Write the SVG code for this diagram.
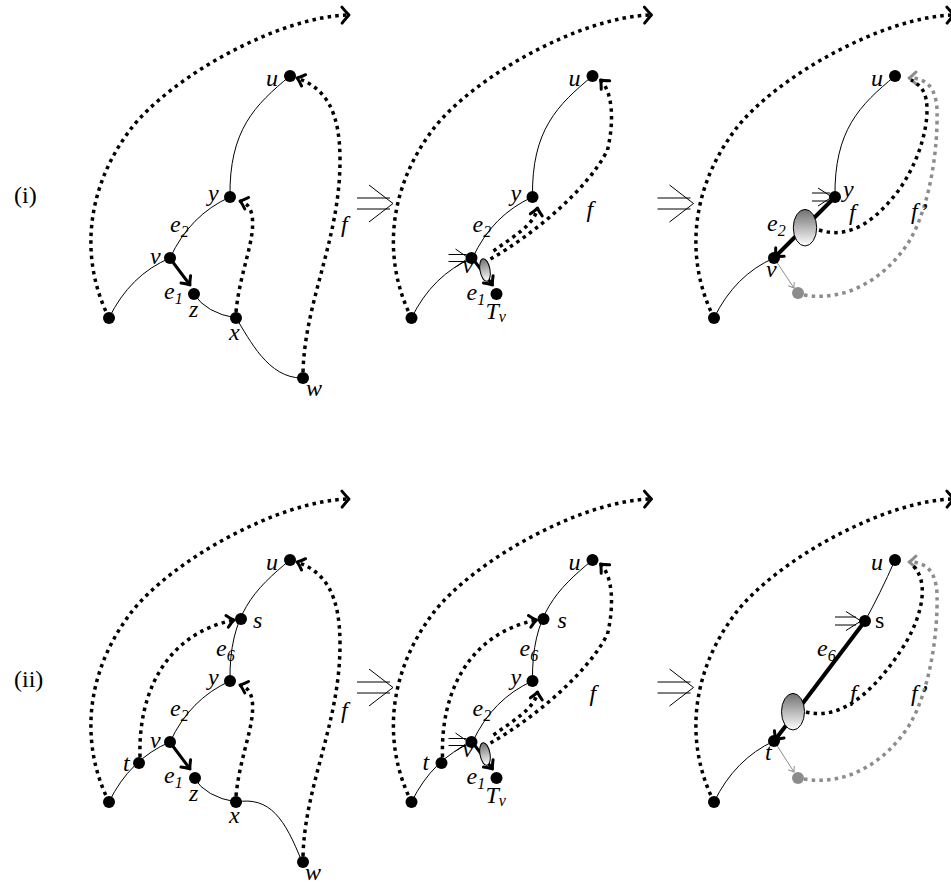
<svg xmlns="http://www.w3.org/2000/svg" width="951" height="886" viewBox="0 0 951 886">
<style>
.sl{fill:none;stroke:#000;stroke-width:1}
.th{fill:none;stroke:#000;stroke-width:3}
.tk{fill:none;stroke:#000;stroke-width:4}
.dt{fill:none;stroke:#000;stroke-width:3.5;stroke-dasharray:3.5 4.2}
.gdt{fill:none;stroke:#8c8c8c;stroke-width:3.5;stroke-dasharray:3.5 4.2}
.ga{fill:none;stroke:#8c8c8c;stroke-width:1}
.dbl{fill:none;stroke:#000;stroke-width:1}
.nd{fill:#000}
.gnd{fill:#8c8c8c}
.el{stroke:#000;stroke-width:1;fill:url(#eg)}
text{font-family:"Liberation Serif","Times New Roman",serif;font-size:24px;font-style:italic;fill:#000}
.sub{font-size:16px}
.rm{font-style:normal}
</style>
<defs>
<linearGradient id="eg" x1="0" y1="0" x2="0" y2="1"><stop offset="0" stop-color="#707070"/><stop offset="1" stop-color="#ffffff"/></linearGradient>
<marker id="ah" markerUnits="userSpaceOnUse" markerWidth="20" markerHeight="20" viewBox="-10 -10 20 20" refX="0" refY="0" orient="auto" overflow="visible"><path d="M-7,-6 Q-2,-1 0,0 Q-2,1 -7,6" fill="none" stroke="#000" stroke-width="3" stroke-linecap="round" stroke-linejoin="round"/></marker>
<marker id="ahb" markerUnits="userSpaceOnUse" markerWidth="20" markerHeight="20" viewBox="-10 -10 20 20" refX="0" refY="0" orient="auto" overflow="visible"><path d="M-7,-8 Q-2,-2 0,0 Q-2,2 -7,8" fill="none" stroke="#000" stroke-width="3" stroke-linecap="round" stroke-linejoin="round"/></marker>
<marker id="ahg" markerUnits="userSpaceOnUse" markerWidth="20" markerHeight="20" viewBox="-10 -10 20 20" refX="0" refY="0" orient="auto" overflow="visible"><path d="M-7,-6 Q-2,-1 0,0 Q-2,1 -7,6" fill="none" stroke="#8c8c8c" stroke-width="3" stroke-linecap="round" stroke-linejoin="round"/></marker>
<marker id="sg" markerUnits="userSpaceOnUse" markerWidth="12" markerHeight="12" viewBox="-6 -6 12 12" refX="0" refY="0" orient="auto" overflow="visible"><path d="M-5,-3.5 L0,0 L-5,3.5" fill="none" stroke="#8c8c8c" stroke-width="1"/></marker>
</defs>
<rect width="951" height="886" fill="#fff"/>

<text class="rm" x="14" y="203">(i)</text>
<text class="rm" x="14" y="687">(ii)</text>

<!-- Panel A: top-left -->
<g id="panelA">
 <g id="A-connectors">
  <path class="dt" d="M109,318 C80,260 85,190 130,130 C170,77 280,16 349,15" marker-end="url(#ahb)"/>
  <path class="dt" d="M303,372 C305,300 340,240 340,160 C340,110 325,88 297,78" marker-end="url(#ah)"/>
  <path class="dt" d="M236,312 C240,270 256,240 252,215 C250,206 246,203 240,201" marker-end="url(#ah)"/>
  <path class="sl" d="M290,76 C255,105 229,130 230,197"/>
  <path class="sl" d="M230,197 Q190,215 170,258"/>
  <path class="sl" d="M170,258 Q130,275 109,318"/>
  <path class="th" d="M172,261 L190,285" marker-end="url(#ah)"/>
  <path class="sl" d="M194,294 Q206,313 236,318"/>
  <path class="sl" d="M236,318 C250,340 268,378 302,378"/>
  <path class="dbl" d="M357,198 H390 M357,209 H390 M369,185 L393,203.5 L369,222"/>
 </g>
 <g id="A-u"><circle class="nd" cx="290" cy="76" r="6"/><text x="266" y="86">u</text></g>
 <g id="A-y"><circle class="nd" cx="230" cy="197" r="6"/><text x="208" y="201">y</text></g>
 <g id="A-v"><circle class="nd" cx="170" cy="258" r="6"/><text x="150" y="264">v</text></g>
 <g id="A-z"><circle class="nd" cx="194" cy="294" r="6"/><text x="189" y="317">z</text></g>
 <g id="A-x"><circle class="nd" cx="236" cy="318" r="6"/><text x="229" y="340">x</text></g>
 <g id="A-w"><circle class="nd" cx="303" cy="378" r="6"/><text x="306" y="396">w</text></g>
 <g id="A-l"><circle class="nd" cx="109" cy="318" r="6"/></g>
 <g id="A-labels">
  <text x="170" y="232">e<tspan class="sub" dy="5">2</tspan></text>
  <text x="164" y="299">e<tspan class="sub" dy="5">1</tspan></text>
  <text x="341" y="232">f</text>
 </g>
</g>

<!-- Panel B: top-middle -->
<g id="panelB" transform="translate(302.5,0)">
 <g id="B-connectors">
  <path class="dt" d="M109,318 C80,260 85,190 130,130 C170,77 280,16 349,15" marker-end="url(#ahb)"/>
  <path class="sl" d="M290,76 C255,105 229,130 230,197"/>
  <path class="sl" d="M230,197 Q190,215 170,258"/>
  <path class="sl" d="M170,258 Q130,275 109,318"/>
  <path class="th" d="M172,261 L190,285" marker-end="url(#ah)"/>
  <path class="dt" d="M188,259 C230,235 285,190 305,150 C312,120 310,92 298,80" marker-end="url(#ah)"/>
  <path class="dt" d="M191,251 C210,237 232,225 235,208" marker-end="url(#ah)"/>
  <path class="dbl" d="M146,254.5 H164 M146,261.5 H164 M153,249 L166,258 L153,267"/>
  <path class="dbl" d="M355,198 H388 M355,209 H388 M367,185 L391,203.5 L367,222"/>
 </g>
 <g id="B-u"><circle class="nd" cx="290" cy="76" r="6"/><text x="266" y="86">u</text></g>
 <g id="B-y"><circle class="nd" cx="230" cy="197" r="6"/><text x="208" y="201">y</text></g>
 <g id="B-v"><circle class="nd" cx="169" cy="258" r="6"/><text x="160" y="273">v</text></g>
 <g id="B-e"><ellipse class="el" cx="182.5" cy="270" rx="5" ry="11.5" transform="rotate(-10 182.5 270)"/></g>
 <g id="B-tv"><circle class="nd" cx="194" cy="294" r="6"/><text x="183" y="319">T<tspan class="sub" dy="3">v</tspan></text></g>
 <g id="B-l"><circle class="nd" cx="109" cy="318" r="6"/></g>
 <g id="B-labels">
  <text x="170" y="232">e<tspan class="sub" dy="5">2</tspan></text>
  <text x="164" y="300">e<tspan class="sub" dy="5">1</tspan></text>
  <text x="284" y="217">f</text>
 </g>
</g>

<!-- Panel C: top-right -->
<g id="panelC" transform="translate(605,0)">
 <g id="C-connectors">
  <path class="dt" d="M109,318 C80,260 85,190 130,130 C170,77 280,16 349,15" marker-end="url(#ahb)"/>
  <path class="sl" d="M290,76 C255,105 229,130 230,197"/>
  <path class="sl" d="M169,258 Q130,275 109,318"/>
  <path class="tk" d="M230,197 L170,257" marker-end="url(#ah)"/>
  <path class="ga" d="M171,261 L189,288" marker-end="url(#sg)"/>
  <path class="gdt" d="M199,295 C240,302 280,280 305,240 C325,205 333,150 332,110 C331,88 322,78 304,78" marker-end="url(#ahg)"/>
  <path class="dt" d="M214,230 C245,240 270,220 290,195 C310,170 322,135 322,110 C322,95 318,86 306,80"/>
  <path class="dbl" d="M207,193 H225 M207,201 H225 M213,188 L227,197 L213,206"/>
 </g>
 <g id="C-u"><circle class="nd" cx="290" cy="76" r="6"/><text x="266" y="86">u</text></g>
 <g id="C-y"><circle class="nd" cx="230" cy="197" r="6"/><text x="238" y="197">y</text></g>
 <g id="C-e"><ellipse class="el" cx="200" cy="227.7" rx="11.7" ry="18.3"/></g>
 <g id="C-v"><circle class="nd" cx="169" cy="258" r="6"/><text x="161" y="277">v</text></g>
 <g id="C-g"><circle class="gnd" cx="193" cy="293" r="6"/></g>
 <g id="C-l"><circle class="nd" cx="109" cy="318" r="6"/></g>
 <g id="C-labels">
  <text x="162" y="231">e<tspan class="sub" dy="5">2</tspan></text>
  <text x="244" y="220">f</text>
  <text x="306" y="219">f’</text>
 </g>
</g>

<!-- Panel D: bottom-left -->
<g id="panelD" transform="translate(0,484)">
 <g id="D-connectors">
  <path class="dt" d="M109,318 C80,260 85,190 130,130 C170,77 280,16 349,15" marker-end="url(#ahb)"/>
  <path class="dt" d="M303,372 C305,300 340,240 340,160 C340,110 325,88 297,78" marker-end="url(#ah)"/>
  <path class="dt" d="M236,312 C240,270 256,240 252,215 C250,206 246,203 240,201" marker-end="url(#ah)"/>
  <path class="dt" d="M140,273 C138,210 165,150 234,136" marker-end="url(#ah)"/>
  <path class="sl" d="M290,76 C255,105 229,130 230,197"/>
  <path class="sl" d="M230,197 Q190,215 170,258"/>
  <path class="sl" d="M170,258 Q130,275 109,318"/>
  <path class="th" d="M172,261 L190,285" marker-end="url(#ah)"/>
  <path class="sl" d="M194,294 Q206,313 236,318"/>
  <path class="sl" d="M236,318 C270,312 285,335 302,378"/>
  <path class="dbl" d="M357,198 H390 M357,209 H390 M369,185 L393,203.5 L369,222"/>
 </g>
 <g id="D-u"><circle class="nd" cx="290" cy="76" r="6"/><text x="266" y="86">u</text></g>
 <g id="D-s"><circle class="nd" cx="241" cy="135" r="6"/><text x="253" y="144">s</text></g>
 <g id="D-y"><circle class="nd" cx="230" cy="197" r="6"/><text x="208" y="201">y</text></g>
 <g id="D-v"><circle class="nd" cx="170" cy="258" r="6"/><text x="150" y="264">v</text></g>
 <g id="D-t"><circle class="nd" cx="139" cy="279" r="6"/><text x="123" y="287">t</text></g>
 <g id="D-z"><circle class="nd" cx="195" cy="294" r="6"/><text x="189" y="317">z</text></g>
 <g id="D-x"><circle class="nd" cx="236" cy="318" r="6"/><text x="229" y="339">x</text></g>
 <g id="D-w"><circle class="nd" cx="303" cy="378" r="6"/><text x="305" y="396">w</text></g>
 <g id="D-l"><circle class="nd" cx="109" cy="318" r="6"/></g>
 <g id="D-labels">
  <text x="216" y="172">e<tspan class="sub" dy="5">6</tspan></text>
  <text x="170" y="232">e<tspan class="sub" dy="5">2</tspan></text>
  <text x="164" y="299">e<tspan class="sub" dy="5">1</tspan></text>
  <text x="341" y="234">f</text>
 </g>
</g>

<!-- Panel E: bottom-middle -->
<g id="panelE" transform="translate(302.5,484)">
 <g id="E-connectors">
  <path class="dt" d="M109,318 C80,260 85,190 130,130 C170,77 280,16 349,15" marker-end="url(#ahb)"/>
  <path class="dt" d="M140,273 C138,210 165,150 234,136" marker-end="url(#ah)"/>
  <path class="sl" d="M290,76 C255,105 229,130 230,197"/>
  <path class="sl" d="M230,197 Q190,215 170,258"/>
  <path class="sl" d="M170,258 Q130,275 109,318"/>
  <path class="th" d="M172,261 L190,285" marker-end="url(#ah)"/>
  <path class="dt" d="M188,259 C230,235 285,190 305,150 C312,120 310,92 298,80" marker-end="url(#ah)"/>
  <path class="dt" d="M191,251 C210,237 232,225 235,208" marker-end="url(#ah)"/>
  <path class="dbl" d="M146,254.5 H164 M146,261.5 H164 M153,249 L166,258 L153,267"/>
  <path class="dbl" d="M355,198 H388 M355,209 H388 M367,185 L391,203.5 L367,222"/>
 </g>
 <g id="E-u"><circle class="nd" cx="290" cy="76" r="6"/><text x="266" y="86">u</text></g>
 <g id="E-s"><circle class="nd" cx="241" cy="135" r="6"/><text x="255" y="144">s</text></g>
 <g id="E-y"><circle class="nd" cx="230" cy="197" r="6"/><text x="208" y="201">y</text></g>
 <g id="E-v"><circle class="nd" cx="169" cy="258" r="6"/><text x="160" y="273">v</text></g>
 <g id="E-t"><circle class="nd" cx="139" cy="279" r="6"/><text x="120" y="286">t</text></g>
 <g id="E-e"><ellipse class="el" cx="182.5" cy="270" rx="5" ry="11.5" transform="rotate(-10 182.5 270)"/></g>
 <g id="E-tv"><circle class="nd" cx="194" cy="294" r="6"/><text x="183" y="319">T<tspan class="sub" dy="3">v</tspan></text></g>
 <g id="E-l"><circle class="nd" cx="109" cy="318" r="6"/></g>
 <g id="E-labels">
  <text x="217" y="172">e<tspan class="sub" dy="5">6</tspan></text>
  <text x="170" y="232">e<tspan class="sub" dy="5">2</tspan></text>
  <text x="164" y="300">e<tspan class="sub" dy="5">1</tspan></text>
  <text x="287" y="217">f</text>
 </g>
</g>

<!-- Panel F: bottom-right -->
<g id="panelF" transform="translate(605,484)">
 <g id="F-connectors">
  <path class="dt" d="M109,318 C80,260 85,190 130,130 C170,77 280,16 349,15" marker-end="url(#ahb)"/>
  <path class="sl" d="M290,76 Q275,110 260,137"/>
  <path class="sl" d="M169,257 Q130,275 109,318"/>
  <path class="tk" d="M260,137 L170,256" marker-end="url(#ah)"/>
  <path class="ga" d="M171,260 L189,288" marker-end="url(#sg)"/>
  <path class="gdt" d="M199,295 C240,302 280,280 305,240 C325,205 333,150 332,110 C331,88 322,78 304,78" marker-end="url(#ahg)"/>
  <path class="dt" d="M201,228 C240,238 275,200 300,160 C318,130 325,95 306,80"/>
  <path class="dbl" d="M230,133 H251 M230,141 H251 M241,127.5 L256,137 L241,146.5"/>
 </g>
 <g id="F-u"><circle class="nd" cx="290" cy="76" r="6"/><text x="266" y="86">u</text></g>
 <g id="F-s"><circle class="nd" cx="260" cy="137" r="6"/><text class="rm" x="270" y="144">s</text></g>
 <g id="F-e"><ellipse class="el" cx="188" cy="227.7" rx="11.5" ry="18.3"/></g>
 <g id="F-t"><circle class="nd" cx="169" cy="257" r="6"/><text x="160" y="276">t</text></g>
 <g id="F-g"><circle class="gnd" cx="193" cy="294" r="6"/></g>
 <g id="F-l"><circle class="nd" cx="109" cy="318" r="6"/></g>
 <g id="F-labels">
  <text x="212" y="172">e<tspan class="sub" dy="5">6</tspan></text>
  <text x="245" y="217">f</text>
  <text x="306" y="217">f’</text>
 </g>
</g>
</svg>
